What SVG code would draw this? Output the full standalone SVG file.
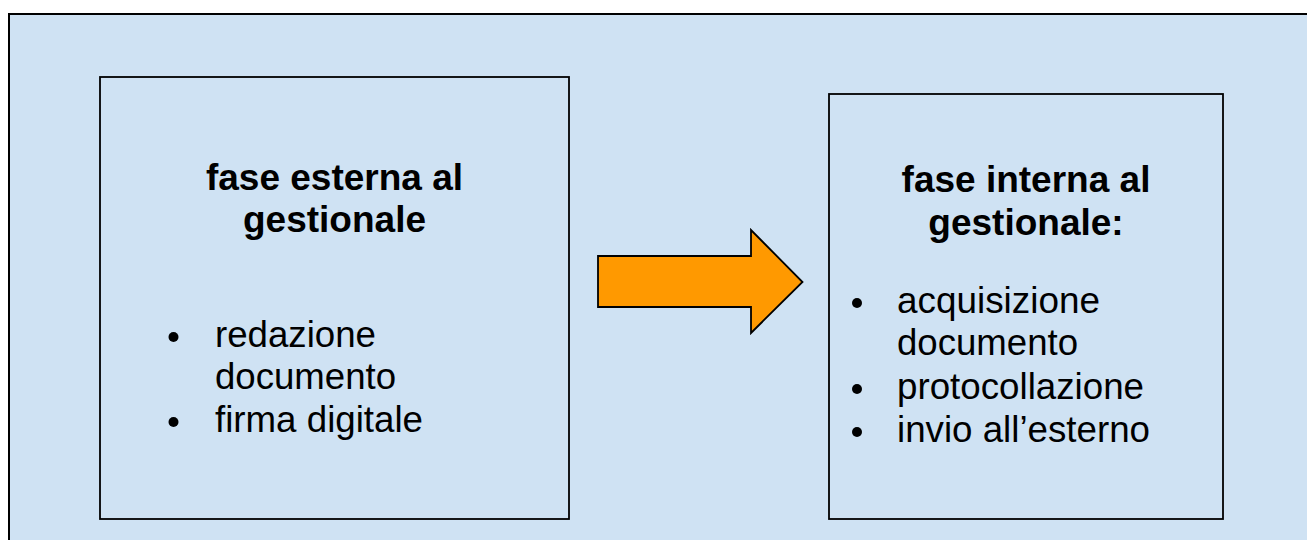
<svg xmlns="http://www.w3.org/2000/svg" width="1307" height="540" viewBox="0 0 1307 540">
  <style>
    .frame { fill: #CFE2F3; stroke: #000; stroke-width: 2; }
    .box { fill: #CFE2F3; stroke: #000; stroke-width: 1.8; }
    .title { font-family: "Liberation Sans", Arial, sans-serif; font-weight: bold; font-size: 37px; fill: #000; text-anchor: middle; }
    .item { font-family: "Liberation Sans", Arial, sans-serif; font-size: 36px; fill: #000; }
    .dot { fill: #000; }
    .arrow { fill: #FF9900; stroke: #000; stroke-width: 1.8; stroke-linejoin: miter; }
  </style>
  <rect x="0" y="0" width="1307" height="540" fill="#FFFFFF"/>
  <rect class="frame" x="9" y="14" width="1310" height="540"/>

  <g id="node-fase-esterna">
    <rect class="box" x="100" y="77" width="469" height="442"/>
    <text class="title" x="334.5" y="190">fase esterna al</text>
    <text class="title" x="334.5" y="232">gestionale</text>
    <circle class="dot" cx="173.5" cy="337" r="5"/>
    <text class="item" x="215" y="346.5" textLength="161" lengthAdjust="spacingAndGlyphs">redazione</text>
    <text class="item" x="215" y="389" textLength="181" lengthAdjust="spacingAndGlyphs">documento</text>
    <circle class="dot" cx="173.5" cy="422" r="5"/>
    <text class="item" x="215" y="431.5" textLength="208" lengthAdjust="spacingAndGlyphs">firma digitale</text>
  </g>

  <g id="node-fase-interna">
    <rect class="box" x="829" y="94" width="394" height="425"/>
    <text class="title" x="1026" y="192">fase interna al</text>
    <text class="title" x="1026" y="235">gestionale:</text>
    <circle class="dot" cx="857" cy="303" r="5"/>
    <text class="item" x="897" y="313" textLength="203" lengthAdjust="spacingAndGlyphs">acquisizione</text>
    <text class="item" x="897" y="355" textLength="181" lengthAdjust="spacingAndGlyphs">documento</text>
    <circle class="dot" cx="857" cy="389" r="5"/>
    <text class="item" x="897" y="398.5" textLength="247" lengthAdjust="spacingAndGlyphs">protocollazione</text>
    <circle class="dot" cx="857" cy="432" r="5"/>
    <text class="item" x="897" y="441.5" textLength="253" lengthAdjust="spacingAndGlyphs">invio all’esterno</text>
  </g>

  <g id="connectors">
    <polygon class="arrow" points="598,256 751,256 751,230 802.5,282 751,333 751,307 598,307"/>
  </g>
</svg>
